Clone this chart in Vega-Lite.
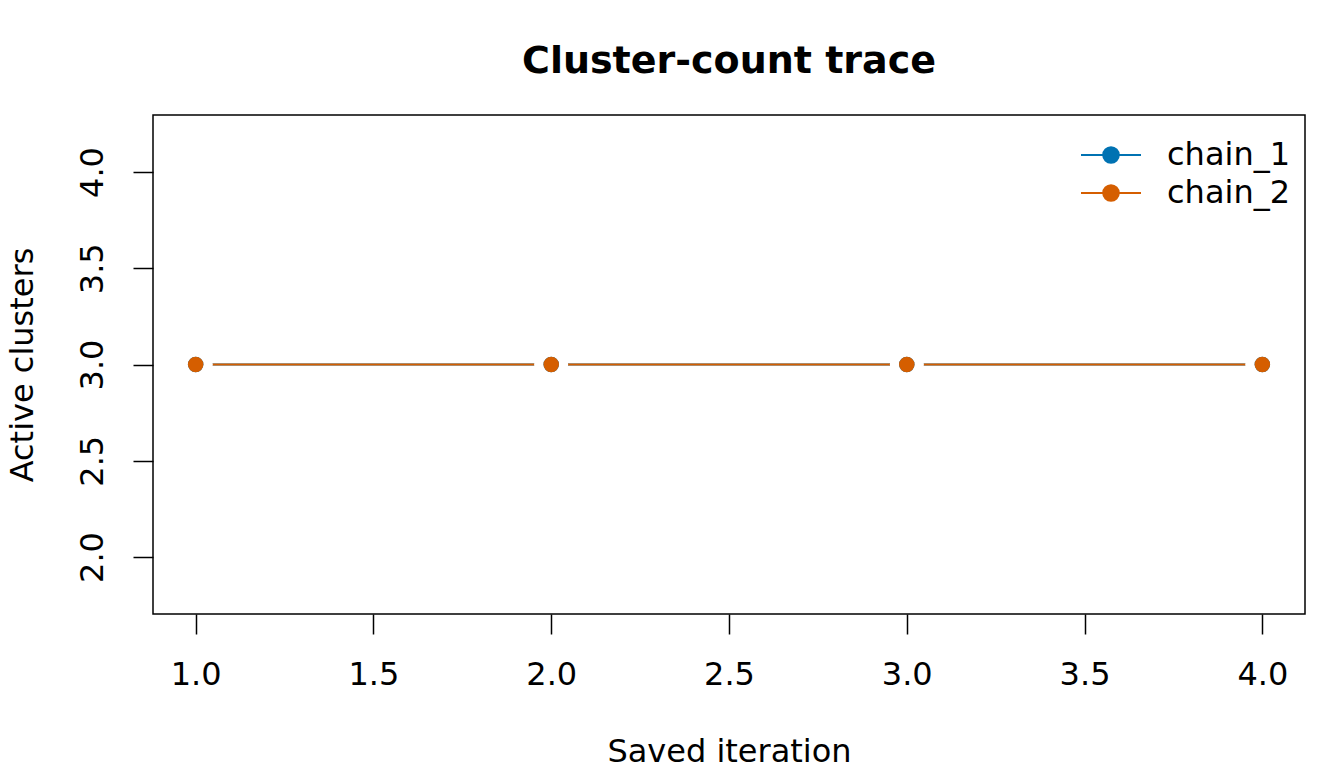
{
  "$schema": "https://vega.github.io/schema/vega-lite/v6.json",
  "width": 1152,
  "height": 499,
  "autosize": {"type": "none"},
  "padding": {"left": 153, "top": 115, "right": 39, "bottom": 154},
  "background": "white",
  "config": {
    "font": "DejaVu Sans",
    "view": {"stroke": "black", "strokeWidth": 1.5},
    "axis": {
      "domain": false,
      "grid": false,
      "ticks": true,
      "tickColor": "black",
      "tickWidth": 1.5,
      "tickSize": 20,
      "labelFont": "DejaVu Sans",
      "labelFontSize": 32,
      "labelColor": "black",
      "titleFont": "DejaVu Sans",
      "titleFontSize": 32,
      "titleFontWeight": "normal",
      "titleColor": "black"
    }
  },
  "title": {
    "text": "Cluster-count trace",
    "font": "DejaVu Sans",
    "fontSize": 38,
    "fontWeight": "bold",
    "color": "black",
    "anchor": "middle",
    "offset": 34
  },
  "data": {
    "values": [
      {"iteration": 1, "clusters": 3, "chain": "chain_1"},
      {"iteration": 2, "clusters": 3, "chain": "chain_1"},
      {"iteration": 3, "clusters": 3, "chain": "chain_1"},
      {"iteration": 4, "clusters": 3, "chain": "chain_1"},
      {"iteration": 1, "clusters": 3, "chain": "chain_2"},
      {"iteration": 2, "clusters": 3, "chain": "chain_2"},
      {"iteration": 3, "clusters": 3, "chain": "chain_2"},
      {"iteration": 4, "clusters": 3, "chain": "chain_2"}
    ]
  },
  "encoding": {
    "x": {
      "field": "iteration",
      "type": "quantitative",
      "title": "Saved iteration",
      "scale": {"domain": [0.88, 4.12], "nice": false, "zero": false},
      "axis": {
        "values": [1, 1.5, 2, 2.5, 3, 3.5, 4],
        "format": ".1f",
        "labelPadding": 25,
        "titlePadding": 46
      }
    },
    "y": {
      "field": "clusters",
      "type": "quantitative",
      "title": "Active clusters",
      "scale": {"domain": [1.704, 4.296], "nice": false, "zero": false},
      "axis": {
        "values": [2, 2.5, 3, 3.5, 4],
        "format": ".1f",
        "labelAngle": -90,
        "labelAlign": "center",
        "labelBaseline": "bottom",
        "labelPadding": 24,
        "titlePadding": 37
      }
    }
  },
  "layer": [
    {
      "mark": {"type": "line", "strokeWidth": 2},
      "encoding": {
        "color": {
          "field": "chain",
          "type": "nominal",
          "scale": {"domain": ["chain_1", "chain_2"], "range": ["#0072B2", "#D55E00"]},
          "legend": {
            "title": null,
            "orient": "none",
            "legendX": 942,
            "legendY": 24,
            "symbolType": "M-2,0H2M-0.52,0A0.52,0.52 0 1,0 0.52,0A0.52,0.52 0 1,0 -0.52,0Z",
            "symbolSize": 900,
            "symbolStrokeWidth": 2,
            "labelFont": "DejaVu Sans",
            "labelFontSize": 32,
            "labelColor": "black",
            "labelOffset": 40,
            "rowPadding": 6,
            "padding": 0,
            "encode": {
              "symbols": {"update": {"fill": {"scale": "color", "field": "value"}, "opacity": {"value": 1}}}
            }
          }
        }
      }
    },
    {
      "mark": {"type": "point", "filled": true, "size": 1134, "opacity": 1, "color": "white"},
      "encoding": {
        "detail": {"field": "chain", "type": "nominal"}
      }
    },
    {
      "mark": {"type": "point", "filled": true, "size": 240, "opacity": 1},
      "encoding": {
        "color": {
          "field": "chain",
          "type": "nominal",
          "scale": {"domain": ["chain_1", "chain_2"], "range": ["#0072B2", "#D55E00"]},
          "legend": null
        }
      }
    }
  ]
}
